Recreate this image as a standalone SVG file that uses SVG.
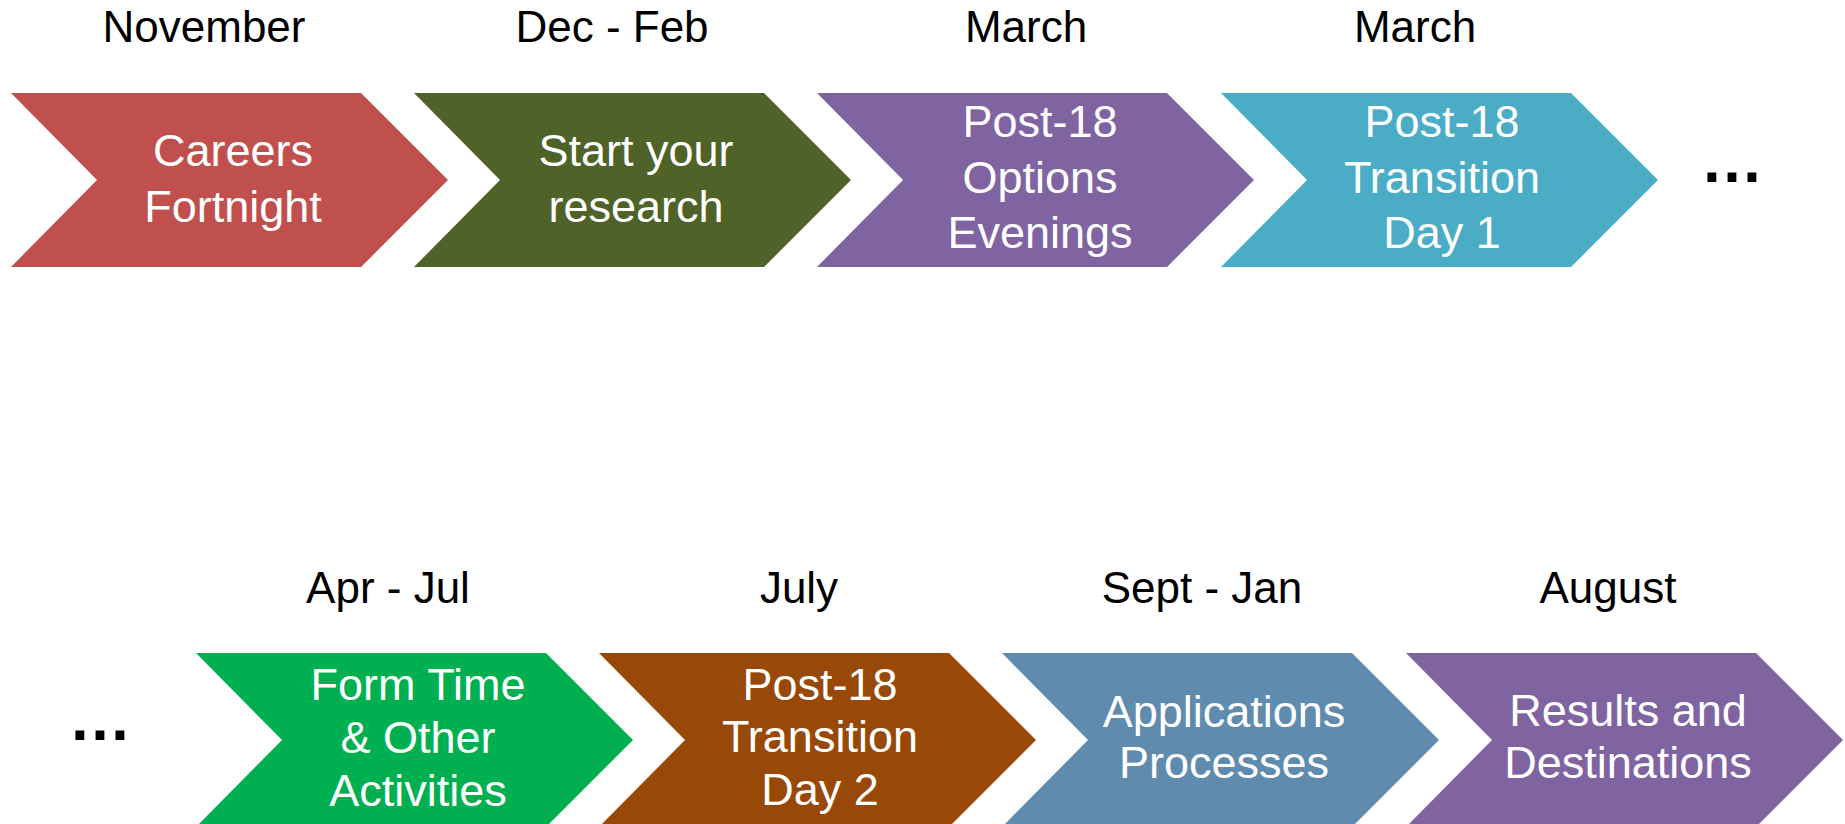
<svg xmlns="http://www.w3.org/2000/svg" width="1845" height="824" viewBox="0 0 1845 824">
<style>
.lbl{font-family:"Liberation Sans",Arial,sans-serif;font-size:44px;fill:#000;text-anchor:middle}
.body{font-family:"Liberation Sans",Arial,sans-serif;font-size:45px;fill:#fff;text-anchor:middle}
.dots{font-family:"Liberation Sans",Arial,sans-serif;font-size:63px;font-weight:bold;fill:#000;text-anchor:middle}
</style>
<defs>
<polygon id="chev" points="0,0 350,0 437,87 350,174 0,174 86,87"/>
</defs>
<rect width="1845" height="824" fill="#fff"/>
<g id="connectors"></g>
<g id="n1">
<use href="#chev" x="11" y="93" fill="#C0504D"/>
<text class="lbl" x="204" y="42">November</text>
<text class="body" x="233" y="166">Careers</text>
<text class="body" x="233" y="222">Fortnight</text>
</g>
<g id="n2">
<use href="#chev" x="414" y="93" fill="#4F6228"/>
<text class="lbl" x="612" y="42">Dec - Feb</text>
<text class="body" x="636" y="166">Start your</text>
<text class="body" x="636" y="222">research</text>
</g>
<g id="n3">
<use href="#chev" x="817" y="93" fill="#8064A2"/>
<text class="lbl" x="1026" y="42">March</text>
<text class="body" x="1040" y="137">Post-18</text>
<text class="body" x="1040" y="193">Options</text>
<text class="body" x="1040" y="248">Evenings</text>
</g>
<g id="n4">
<use href="#chev" x="1221" y="93" fill="#4BACC6"/>
<text class="lbl" x="1415" y="42">March</text>
<text class="body" x="1442" y="137">Post-18</text>
<text class="body" x="1442" y="193">Transition</text>
<text class="body" x="1442" y="248">Day 1</text>
</g>
<g id="dots1"><text class="dots" x="1732" y="182">…</text></g>
<g id="dots2"><text class="dots" x="100" y="740">…</text></g>
<g id="n5">
<use href="#chev" x="196" y="653" fill="#00B050"/>
<text class="lbl" x="388" y="603">Apr - Jul</text>
<text class="body" x="418" y="700">Form Time</text>
<text class="body" x="418" y="753">&amp; Other</text>
<text class="body" x="418" y="806">Activities</text>
</g>
<g id="n6">
<use href="#chev" x="599" y="653" fill="#984807"/>
<text class="lbl" x="799" y="603">July</text>
<text class="body" x="820" y="700">Post-18</text>
<text class="body" x="820" y="752">Transition</text>
<text class="body" x="820" y="805">Day 2</text>
</g>
<g id="n7">
<use href="#chev" x="1002" y="653" fill="#5F8CAE"/>
<text class="lbl" x="1202" y="603">Sept - Jan</text>
<text class="body" x="1224" y="727">Applications</text>
<text class="body" x="1224" y="778">Processes</text>
</g>
<g id="n8">
<use href="#chev" x="1406" y="653" fill="#8064A2"/>
<text class="lbl" x="1608" y="603">August</text>
<text class="body" x="1628" y="726">Results and</text>
<text class="body" x="1628" y="778">Destinations</text>
</g>
</svg>
